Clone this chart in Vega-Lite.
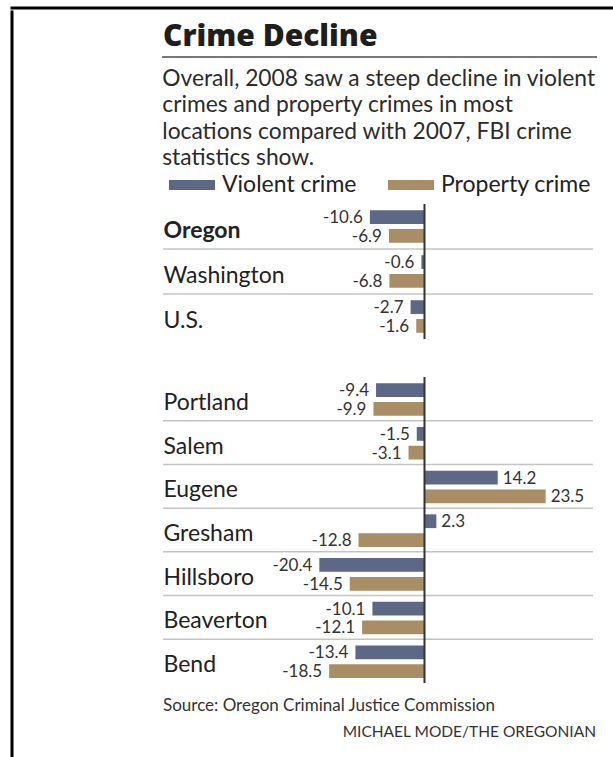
{
  "$schema": "https://vega.github.io/schema/vega-lite/v6.json",
  "padding": {"left": 10, "top": 6, "right": 0, "bottom": 0},
  "background": "white",
  "config": {"view": {"stroke": null}, "font": "Lato"},
  "datasets": {
    "crime": [
      {"group": "state", "place": "Oregon", "crime": "Violent crime", "value": -10.6},
      {"group": "state", "place": "Oregon", "crime": "Property crime", "value": -6.9},
      {"group": "state", "place": "Washington", "crime": "Violent crime", "value": -0.6},
      {"group": "state", "place": "Washington", "crime": "Property crime", "value": -6.8},
      {"group": "state", "place": "U.S.", "crime": "Violent crime", "value": -2.7},
      {"group": "state", "place": "U.S.", "crime": "Property crime", "value": -1.6},
      {"group": "city", "place": "Portland", "crime": "Violent crime", "value": -9.4},
      {"group": "city", "place": "Portland", "crime": "Property crime", "value": -9.9},
      {"group": "city", "place": "Salem", "crime": "Violent crime", "value": -1.5},
      {"group": "city", "place": "Salem", "crime": "Property crime", "value": -3.1},
      {"group": "city", "place": "Eugene", "crime": "Violent crime", "value": 14.2},
      {"group": "city", "place": "Eugene", "crime": "Property crime", "value": 23.5},
      {"group": "city", "place": "Gresham", "crime": "Violent crime", "value": 2.3},
      {"group": "city", "place": "Gresham", "crime": "Property crime", "value": -12.8},
      {"group": "city", "place": "Hillsboro", "crime": "Violent crime", "value": -20.4},
      {"group": "city", "place": "Hillsboro", "crime": "Property crime", "value": -14.5},
      {"group": "city", "place": "Beaverton", "crime": "Violent crime", "value": -10.1},
      {"group": "city", "place": "Beaverton", "crime": "Property crime", "value": -12.1},
      {"group": "city", "place": "Bend", "crime": "Violent crime", "value": -13.4},
      {"group": "city", "place": "Bend", "crime": "Property crime", "value": -18.5}
    ]
  },
  "resolve": {"scale": {"color": "independent"}, "legend": {"color": "independent"}},
  "spacing": 0,
  "vconcat": [
    {
      "width": 600, "height": 0.01,
      "data": {"values": []}, "mark": "point",
      "view": {"stroke": "black", "strokeWidth": 3}
    },
    {
      "spacing": 148,
      "resolve": {"scale": {"color": "independent"}, "legend": {"color": "independent"}},
      "hconcat": [
        {
          "width": 0.01, "height": 745,
          "data": {"values": []}, "mark": "point",
          "view": {"stroke": "black", "strokeWidth": 3}
        },
        {
          "spacing": 0,
          "resolve": {"scale": {"color": "independent"}, "legend": {"color": "independent"}},
          "vconcat": [
            {"width": 1, "height": 9, "data": {"values": []}, "mark": "point"},
            {
              "width": 433, "height": 0.01,
              "data": {"values": []}, "mark": "point",
              "view": {"stroke": "#777777", "strokeWidth": 2},
              "title": {"text": "Crime Decline", "anchor": "start", "font": "Open Sans", "fontSize": 30, "fontWeight": 800, "color": "#1e1e1e", "offset": 5}
            },
            {"width": 1, "height": 8, "data": {"values": []}, "mark": "point"},
            {
              "width": 430, "height": 135,
              "data": {"name": "crime"},
              "transform": [{"filter": "datum.group == 'state'"}],
              "title": {
                "text": ["Overall, 2008 saw a steep decline in violent", "crimes and property crimes in most", "locations compared with 2007, FBI crime", "statistics show."],
                "anchor": "start", "font": "Lato", "fontSize": 22.8, "fontWeight": "normal", "color": "#2b2b2b", "lineHeight": 26.5, "offset": 3
              },
              "layer": [
                {
                  "transform": [{"filter": "datum.crime == 'Violent crime' && datum.place != 'Oregon'"}],
                  "mark": {"type": "rule", "stroke": "#c4c4c4", "strokeWidth": 1.5},
                  "encoding": {
                    "y": {"field": "place", "type": "nominal", "sort": ["Oregon", "Washington", "U.S."], "bandPosition": 0, "scale": {"paddingInner": 0, "paddingOuter": 0}}
                  }
                },
                {
                  "mark": {"type": "bar"},
                  "encoding": {
                    "y": {"field": "place", "type": "nominal", "sort": ["Oregon", "Washington", "U.S."], "scale": {"paddingInner": 0, "paddingOuter": 0},
                      "axis": {"title": null, "domain": false, "ticks": false, "tickSize": 0, "grid": false, "labelAlign": "left", "labelPadding": 0, "labelFont": "Lato", "labelFontSize": 23, "labelColor": "#222222", "labelOffset": 4, "labelBaseline": "middle", "labelLimit": 0,
                        "labelFontWeight": {"condition": {"test": "datum.value === 'Oregon'", "value": "bold"}, "value": "normal"}}},
                    "yOffset": {"field": "crime", "type": "nominal", "sort": ["Violent crime", "Property crime"], "scale": {"paddingInner": 0.27, "paddingOuter": 0.33}},
                    "x": {"field": "value", "type": "quantitative", "scale": {"domain": [-50.73, 32.69], "nice": false, "zero": false}, "axis": null},
                    "color": {"field": "crime", "type": "nominal", "sort": ["Violent crime", "Property crime"],
                      "scale": {"domain": ["Violent crime", "Property crime"], "range": ["#5d6886", "#a88d65"]},
                      "legend": {"orient": "top", "direction": "horizontal", "title": null, "symbolType": "M-1,-0.2174H1V0.2174H-1Z", "symbolSize": 2116, "symbolStrokeWidth": 0, "symbolOpacity": 1, "symbolOffset": 6, "labelFont": "Lato", "labelFontSize": 23, "labelColor": "#222222", "labelOffset": 7, "columnPadding": 25, "clipHeight": 24, "offset": 7, "padding": 0}}
                  }
                },
                {
                  "transform": [{"filter": "datum.crime == 'Violent crime' && datum.place == 'Oregon'"}],
                  "mark": {"type": "rule", "stroke": "#333333", "strokeWidth": 2},
                  "encoding": {"x": {"datum": 0}}
                },
                {
                  "transform": [{"filter": "datum.value < 0"}],
                  "mark": {"type": "text", "align": "right", "baseline": "middle", "dx": -7, "dy": 1, "font": "Lato", "fontSize": 17, "color": "#333333"},
                  "encoding": {
                    "y": {"field": "place", "type": "nominal", "sort": ["Oregon", "Washington", "U.S."]},
                    "yOffset": {"field": "crime", "type": "nominal", "sort": ["Violent crime", "Property crime"]},
                    "x": {"field": "value", "type": "quantitative"},
                    "text": {"field": "value", "type": "nominal"}
                  }
                },
                {
                  "transform": [{"filter": "datum.value >= 0"}],
                  "mark": {"type": "text", "align": "left", "baseline": "middle", "dx": 5, "dy": 1, "font": "Lato", "fontSize": 17, "color": "#333333"},
                  "encoding": {
                    "y": {"field": "place", "type": "nominal", "sort": ["Oregon", "Washington", "U.S."]},
                    "yOffset": {"field": "crime", "type": "nominal", "sort": ["Violent crime", "Property crime"]},
                    "x": {"field": "value", "type": "quantitative"},
                    "text": {"field": "value", "type": "nominal"}
                  }
                }
              ]
            },
            {"width": 1, "height": 36, "data": {"values": []}, "mark": "point"},
            {
              "width": 430, "height": 306,
              "data": {"name": "crime"},
              "transform": [{"filter": "datum.group == 'city'"}],
              "layer": [
                {
                  "transform": [{"filter": "datum.crime == 'Violent crime' && datum.place != 'Portland'"}],
                  "mark": {"type": "rule", "stroke": "#c4c4c4", "strokeWidth": 1.5},
                  "encoding": {
                    "y": {"field": "place", "type": "nominal", "sort": ["Portland", "Salem", "Eugene", "Gresham", "Hillsboro", "Beaverton", "Bend"], "bandPosition": 0, "scale": {"paddingInner": 0, "paddingOuter": 0}}
                  }
                },
                {
                  "mark": {"type": "bar"},
                  "encoding": {
                    "y": {"field": "place", "type": "nominal", "sort": ["Portland", "Salem", "Eugene", "Gresham", "Hillsboro", "Beaverton", "Bend"], "scale": {"paddingInner": 0, "paddingOuter": 0},
                      "axis": {"title": null, "domain": false, "ticks": false, "tickSize": 0, "grid": false, "labelAlign": "left", "labelPadding": 0, "labelFont": "Lato", "labelFontSize": 23, "labelColor": "#222222", "labelOffset": 4, "labelBaseline": "middle", "labelLimit": 0}},
                    "yOffset": {"field": "crime", "type": "nominal", "sort": ["Violent crime", "Property crime"], "scale": {"paddingInner": 0.27, "paddingOuter": 0.33}},
                    "x": {"field": "value", "type": "quantitative", "scale": {"domain": [-50.73, 32.69], "nice": false, "zero": false}, "axis": null},
                    "color": {"field": "crime", "type": "nominal", "sort": ["Violent crime", "Property crime"],
                      "scale": {"domain": ["Violent crime", "Property crime"], "range": ["#5d6886", "#a88d65"]}, "legend": null}
                  }
                },
                {
                  "transform": [{"filter": "datum.crime == 'Violent crime' && datum.place == 'Portland'"}],
                  "mark": {"type": "rule", "stroke": "#333333", "strokeWidth": 2},
                  "encoding": {"x": {"datum": 0}}
                },
                {
                  "transform": [{"filter": "datum.value < 0"}],
                  "mark": {"type": "text", "align": "right", "baseline": "middle", "dx": -7, "dy": 1, "font": "Lato", "fontSize": 17, "color": "#333333"},
                  "encoding": {
                    "y": {"field": "place", "type": "nominal", "sort": ["Portland", "Salem", "Eugene", "Gresham", "Hillsboro", "Beaverton", "Bend"]},
                    "yOffset": {"field": "crime", "type": "nominal", "sort": ["Violent crime", "Property crime"]},
                    "x": {"field": "value", "type": "quantitative"},
                    "text": {"field": "value", "type": "nominal"}
                  }
                },
                {
                  "transform": [{"filter": "datum.value >= 0"}],
                  "mark": {"type": "text", "align": "left", "baseline": "middle", "dx": 5, "dy": 1, "font": "Lato", "fontSize": 17, "color": "#333333"},
                  "encoding": {
                    "y": {"field": "place", "type": "nominal", "sort": ["Portland", "Salem", "Eugene", "Gresham", "Hillsboro", "Beaverton", "Bend"]},
                    "yOffset": {"field": "crime", "type": "nominal", "sort": ["Violent crime", "Property crime"]},
                    "x": {"field": "value", "type": "quantitative"},
                    "text": {"field": "value", "type": "nominal"}
                  }
                }
              ]
            },
            {"width": 1, "height": 13, "data": {"values": []}, "mark": "point"},
            {
              "width": 430, "height": 9,
              "data": {"values": []}, "mark": "point",
              "title": {"text": "Source: Oregon Criminal Justice Commission", "anchor": "start", "font": "Lato", "fontSize": 17, "fontWeight": "normal", "color": "#333333", "offset": 0}
            },
            {
              "width": 430, "height": 1,
              "data": {"values": []}, "mark": "point",
              "title": {"text": "MICHAEL MODE/THE OREGONIAN", "anchor": "end", "font": "Lato", "fontSize": 15.5, "fontWeight": "normal", "color": "#333333", "offset": 0, "dx": 3}
            }
          ]
        }
      ]
    }
  ]
}
